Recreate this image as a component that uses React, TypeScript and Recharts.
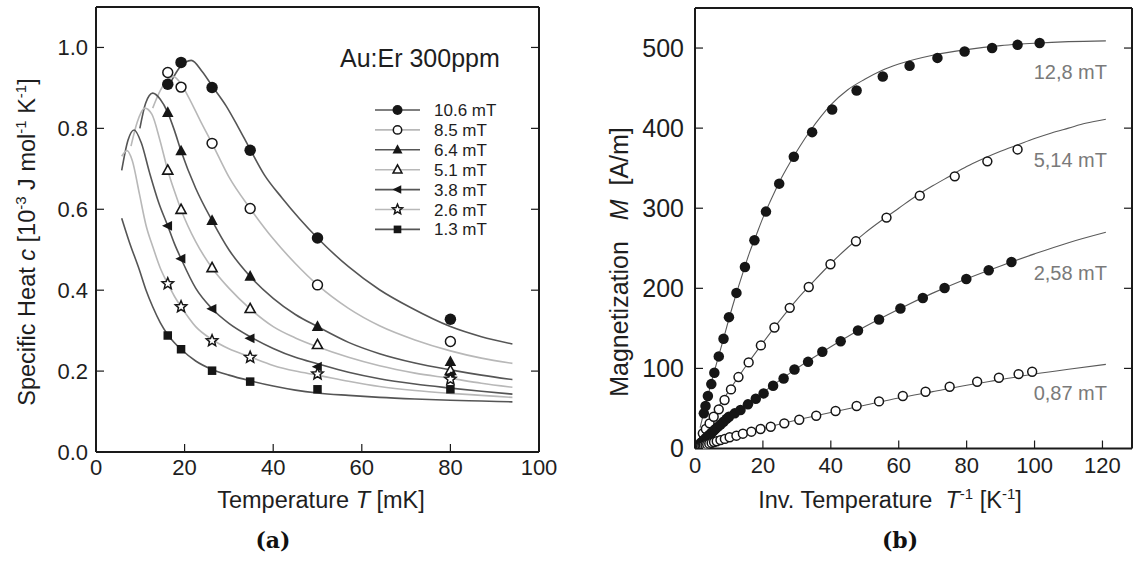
import React from 'react';
import { ComposedChart, Line, Scatter, XAxis, YAxis } from 'recharts';

const FONT = '"Liberation Sans", Arial, Helvetica, sans-serif';
const INK = '#161616';

// ---------------- Panel (a): specific heat ----------------
const tempMK = [16.2, 19.2, 26.2, 34.8, 50, 80];
const fieldLabelsA = ['10.6 mT', '8.5 mT', '6.4 mT', '5.1 mT', '3.8 mT', '2.6 mT', '1.3 mT'];
const heat106 = [0.909, 0.963, 0.901, 0.746, 0.529, 0.328];
const heat85 = [0.938, 0.902, 0.763, 0.602, 0.413, 0.273];
const heat64 = [0.839, 0.744, 0.572, 0.434, 0.31, 0.223];
const heat51 = [0.696, 0.599, 0.455, 0.354, 0.265, 0.201];
const heat38 = [0.559, 0.478, 0.354, 0.281, 0.211, 0.19];
const heat26 = [0.416, 0.359, 0.275, 0.234, 0.193, 0.18];
const heat13 = [0.288, 0.254, 0.201, 0.174, 0.155, 0.155];

const fit106 = [[17.0, 0.917], [19, 0.952], [21.5, 0.968], [24, 0.94], [26.2, 0.905], [29.4, 0.855], [32, 0.805], [34.8, 0.748], [38, 0.685], [42, 0.628], [46, 0.576], [50, 0.529], [57, 0.458], [64, 0.401], [71, 0.357], [80, 0.31], [87, 0.285], [94, 0.267]];
const fit85 = [[12.8, 0.85], [14.5, 0.893], [16, 0.918], [17.5, 0.928], [19.2, 0.91], [21, 0.875], [23.5, 0.82], [26.2, 0.763], [30, 0.68], [34.8, 0.602], [40, 0.527], [45, 0.466], [50, 0.413], [57, 0.355], [64, 0.312], [72, 0.277], [80, 0.25], [87, 0.232], [94, 0.219]];
const fit64 = [[9.9, 0.8], [11.2, 0.862], [12.8, 0.887], [14.5, 0.872], [16.2, 0.839], [17.7, 0.795], [19.2, 0.744], [22.5, 0.652], [26.2, 0.572], [30, 0.5], [34.8, 0.434], [40, 0.38], [45, 0.34], [50, 0.31], [57, 0.271], [64, 0.243], [72, 0.22], [80, 0.203], [87, 0.19], [94, 0.179]];
const fit51 = [[7.9, 0.756], [9.3, 0.815], [11.0, 0.85], [12.6, 0.835], [14.4, 0.772], [16.2, 0.696], [17.7, 0.645], [19.2, 0.599], [22.5, 0.52], [26.2, 0.455], [30, 0.405], [34.8, 0.354], [40, 0.31], [45, 0.282], [50, 0.26], [57, 0.234], [64, 0.213], [72, 0.195], [80, 0.182], [87, 0.17], [94, 0.16]];
const fit38 = [[5.8, 0.696], [7.2, 0.77], [8.6, 0.796], [10.2, 0.765], [12.1, 0.69], [14.2, 0.615], [16.2, 0.559], [17.7, 0.515], [19.2, 0.478], [22.5, 0.405], [26.2, 0.354], [30, 0.318], [34.8, 0.285], [40, 0.256], [45, 0.234], [50, 0.218], [57, 0.197], [64, 0.181], [72, 0.168], [80, 0.158], [87, 0.15], [94, 0.143]];
const fit26 = [[5.8, 0.731], [7.0, 0.745], [8.2, 0.72], [9.8, 0.638], [11.3, 0.56], [12.8, 0.508], [14.5, 0.455], [16.2, 0.416], [17.7, 0.385], [19.2, 0.359], [22.5, 0.31], [26.2, 0.278], [30, 0.255], [34.8, 0.235], [40, 0.214], [45, 0.2], [50, 0.19], [57, 0.175], [64, 0.162], [72, 0.152], [80, 0.145], [87, 0.14], [94, 0.135]];
const fit13 = [[5.8, 0.578], [7.5, 0.52], [9.8, 0.45], [11.3, 0.4], [12.8, 0.359], [14.5, 0.32], [16.2, 0.29], [17.7, 0.27], [19.2, 0.254], [22.5, 0.225], [26.2, 0.204], [30, 0.19], [34.8, 0.176], [40, 0.163], [45, 0.153], [50, 0.146], [57, 0.14], [64, 0.135], [72, 0.131], [80, 0.128], [87, 0.126], [94, 0.124]];

const xTicksA = [0, 20, 40, 60, 80, 100];
const yTicksA = [0, 0.2, 0.4, 0.6, 0.8, 1.0];

// ---------------- Panel (b): magnetization ----------------
const fieldLabelsB = ['12,8 mT', '5,14 mT', '2,58 mT', '0,87 mT'];
const invT128 = [2.6, 3.1, 3.8, 4.8, 5.7, 7.0, 8.4, 10.0, 12.2, 14.7, 17.5, 20.9, 24.8, 29.1, 34.5, 40.4, 47.6, 55.3, 63.2, 71.4, 79.4, 87.5, 95.0, 101.5];
const mag128 = [43.9, 53, 65.5, 80.4, 94.5, 115, 137, 164, 194.3, 226.7, 260, 295.8, 330.7, 364.3, 395, 423.3, 447, 464.5, 477.8, 487.7, 495.6, 500, 504, 506.4];
const invT514 = [2.3, 3.2, 4.3, 5.5, 7.0, 8.7, 10.6, 12.8, 15.8, 19.4, 23.4, 27.9, 33.5, 39.9, 47.4, 56.4, 66.2, 76.5, 86.1, 95.0];
const mag514 = [18.9, 24.3, 31.4, 39.7, 48.9, 60.5, 73.8, 89.2, 107.5, 128.7, 151.1, 175.6, 201.7, 230, 258.7, 288.3, 315.7, 339.8, 358.5, 373.4];
const invT258 = [1.6, 2.0, 2.4, 2.8, 3.2, 3.7, 4.2, 4.8, 5.4, 6.0, 6.7, 7.5, 8.4, 9.3, 10.0, 11.7, 13.4, 15.6, 17.9, 20.2, 23.0, 26.1, 29.3, 33.3, 37.5, 42.9, 48.0, 54.2, 60.5, 67.1, 73.5, 79.9, 86.5, 93.2];
const mag258 = [6.5, 8, 9.7, 11.3, 13, 15, 17, 19.4, 21.8, 24.2, 27, 30, 33.5, 37, 39.7, 43.9, 48, 55.1, 62.1, 68.8, 78.3, 87.5, 98.7, 108.2, 120.7, 134, 147.4, 161.1, 174.8, 188, 200.5, 211.7, 222.6, 232.9];
const invT087 = [1.4, 1.8, 2.2, 2.6, 3.1, 3.6, 4.2, 4.9, 5.6, 6.4, 7.5, 8.8, 10.2, 12.2, 14.1, 16.6, 19.3, 22.3, 26.3, 30.7, 35.7, 41.4, 47.6, 54.2, 61.2, 67.9, 75.0, 83.1, 89.5, 95.3, 99.3];
const mag087 = [2, 2.6, 3.1, 3.7, 4.4, 5.1, 6, 7, 8, 9, 10.5, 12, 14, 16, 18.5, 21, 24.3, 27.2, 31.4, 35.9, 40.9, 46.8, 53, 58.8, 65.5, 70.9, 77.1, 83.3, 88.3, 92.9, 95.8];

const fitB128 = [[1.5, 26], [4, 69], [6, 101], [8, 131], [10, 162], [12, 191], [14, 218], [16, 244], [18, 266], [20, 288], [22, 307], [25, 334], [28, 357], [31, 378], [34, 397], [37, 414], [40, 429], [45, 448], [50, 461], [55, 472], [60, 480], [70, 491], [80, 498], [90, 503], [100, 506], [110, 508], [121, 509]];
const fitB514 = [[1.5, 12], [5, 39], [10, 72], [15, 103], [20, 132], [25, 160], [30, 186], [35, 209], [40, 231], [45, 251], [50, 269], [55, 285], [60, 300], [65, 315], [70, 328], [75, 340], [80, 352], [85, 362], [90, 371], [95, 379], [100, 387], [105, 394], [110, 400], [115, 406], [121, 411]];
const fitB258 = [[1, 4], [10, 40], [20, 70], [30, 100], [40, 127], [50, 152], [60, 174], [70, 194], [80, 212], [90, 228], [100, 243], [110, 257], [121, 270]];
const fitB087 = [[1, 1.5], [10, 13.5], [20, 25], [30, 35.5], [40, 45], [50, 54], [60, 63], [70, 71], [80, 79], [90, 86], [100, 93], [110, 99], [121, 105]];

const xTicksB = [0, 20, 40, 60, 80, 100, 120];
const yTicksB = [0, 100, 200, 300, 400, 500];

// ---------------- helpers ----------------
const zipPts = (xs: number[], ys: number[]) => xs.map((x, i) => ({ x, y: ys[i] }));
const pairPts = (arr: number[][]) => arr.map(([x, y]) => ({ x, y }));

function starPath(cx: number, cy: number, R: number) {
  const r = R * 0.45;
  let d = '';
  for (let i = 0; i < 10; i++) {
    const ang = -Math.PI / 2 + (i * Math.PI) / 5;
    const rad = i % 2 === 0 ? R : r;
    d += (i === 0 ? 'M' : 'L') + (cx + rad * Math.cos(ang)).toFixed(2) + ',' + (cy + rad * Math.sin(ang)).toFixed(2);
  }
  return d + 'Z';
}

function Marker({ kind, cx, cy, s }: { kind: string; cx: number; cy: number; s: number }) {
  const h = s / 2;
  if (cx == null || cy == null) return null;
  switch (kind) {
    case 'circle':
      return <circle cx={cx} cy={cy} r={h} fill={INK} />;
    case 'circleOpen':
      return <circle cx={cx} cy={cy} r={h - 0.8} fill="#fff" stroke={INK} strokeWidth={1.5} />;
    case 'triangle':
      return <polygon points={`${cx},${cy - h * 1.1} ${cx + h},${cy + h * 0.75} ${cx - h},${cy + h * 0.75}`} fill={INK} />;
    case 'triangleOpen':
      return <polygon points={`${cx},${cy - h * 0.95} ${cx + h * 0.88},${cy + h * 0.65} ${cx - h * 0.88},${cy + h * 0.65}`} fill="#fff" stroke={INK} strokeWidth={1.6} strokeLinejoin="miter" />;
    case 'triangleLeft':
      return <polygon points={`${cx - h * 1.0},${cy} ${cx + h * 0.75},${cy - h * 0.85} ${cx + h * 0.75},${cy + h * 0.85}`} fill={INK} />;
    case 'star':
      return <path d={starPath(cx, cy, h * 1.05)} fill="#fff" stroke={INK} strokeWidth={1.5} strokeLinejoin="miter" />;
    case 'square':
      return <rect x={cx - h * 0.85} y={cy - h * 0.85} width={h * 1.7} height={h * 1.7} fill={INK} />;
    default:
      return null;
  }
}

const DARK = '#555555';
const LIGHT = '#b8b8b8';

const seriesA = [
  { label: fieldLabelsA[0], pts: zipPts(tempMK, heat106), fit: pairPts(fit106), marker: 'circle', color: DARK },
  { label: fieldLabelsA[1], pts: zipPts(tempMK, heat85), fit: pairPts(fit85), marker: 'circleOpen', color: LIGHT },
  { label: fieldLabelsA[2], pts: zipPts(tempMK, heat64), fit: pairPts(fit64), marker: 'triangle', color: DARK },
  { label: fieldLabelsA[3], pts: zipPts(tempMK, heat51), fit: pairPts(fit51), marker: 'triangleOpen', color: LIGHT },
  { label: fieldLabelsA[4], pts: zipPts(tempMK, heat38), fit: pairPts(fit38), marker: 'triangleLeft', color: DARK },
  { label: fieldLabelsA[5], pts: zipPts(tempMK, heat26), fit: pairPts(fit26), marker: 'star', color: LIGHT },
  { label: fieldLabelsA[6], pts: zipPts(tempMK, heat13), fit: pairPts(fit13), marker: 'square', color: DARK },
];

const seriesB = [
  { label: fieldLabelsB[0], pts: zipPts(invT128, mag128), fit: pairPts(fitB128), marker: 'circle' },
  { label: fieldLabelsB[1], pts: zipPts(invT514, mag514), fit: pairPts(fitB514), marker: 'circleOpen' },
  { label: fieldLabelsB[2], pts: zipPts(invT258, mag258), fit: pairPts(fitB258), marker: 'circle' },
  { label: fieldLabelsB[3], pts: zipPts(invT087, mag087), fit: pairPts(fitB087), marker: 'circleOpen' },
];

const axisLineStyle = { stroke: '#1a1a1a', strokeWidth: 2 };
const TICK_LEN = 8;
const TICK_STROKE = '#1a1a1a';

// Custom tick: draws an inward tick mark plus (optionally) the label.
function makeTick(orient: string, margin: number, fontSize: number, fmt: ((v: number) => string) | null) {
  return (props: any) => {
    const { x, y, payload } = props;
    if (x == null || y == null) return <g />;
    const v = payload && payload.value;
    let line = null;
    let label = null;
    if (orient === 'bottom') {
      const y0 = y - margin;
      line = <line x1={x} x2={x} y1={y0} y2={y0 - TICK_LEN} stroke={TICK_STROKE} strokeWidth={1.2} />;
      if (fmt) label = <text x={x} y={y} dy="0.71em" textAnchor="middle" fontSize={fontSize} fontFamily={FONT} fill="#1e1e1e">{fmt(v)}</text>;
    } else if (orient === 'left') {
      const x0 = x + margin;
      line = <line x1={x0} x2={x0 + TICK_LEN} y1={y} y2={y} stroke={TICK_STROKE} strokeWidth={1.2} />;
      if (fmt) label = <text x={x} y={y} dy="0.355em" textAnchor="end" fontSize={fontSize} fontFamily={FONT} fill="#1e1e1e">{fmt(v)}</text>;
    } else if (orient === 'top') {
      line = <line x1={x} x2={x} y1={y} y2={y + TICK_LEN} stroke={TICK_STROKE} strokeWidth={1.2} />;
    } else {
      line = <line x1={x - TICK_LEN} x2={x} y1={y} y2={y} stroke={TICK_STROKE} strokeWidth={1.2} />;
    }
    return <g>{line}{label}</g>;
  };
}

const fmtInt = (v: number) => String(v);
const fmt1 = (v: number) => v.toFixed(1);

export default function App() {
  return (
    <div style={{ position: 'absolute', left: 0, top: 0, width: 1137, height: 566, background: '#fff', fontFamily: FONT }}>
      {/* Panel (a) */}
      <div style={{ position: 'absolute', left: 0, top: 0 }}>
        <ComposedChart width={560} height={566} margin={{ top: 6, right: 20, bottom: 54, left: 0 }}>
          <XAxis xAxisId="b" type="number" dataKey="x" domain={[0, 100]} ticks={xTicksA} interval={0}
            orientation="bottom" height={60} tickSize={0} tickMargin={7} tickLine={false}
            tick={makeTick('bottom', 7, 22, fmtInt)} axisLine={axisLineStyle} allowDataOverflow />
          <XAxis xAxisId="t" type="number" domain={[0, 100]} ticks={[20, 40, 60, 80]} interval={0}
            orientation="top" height={1} tickSize={0} tickMargin={0} tickLine={false}
            tick={makeTick('top', 0, 22, null)} axisLine={axisLineStyle} allowDataOverflow />
          <YAxis yAxisId="l" type="number" dataKey="y" domain={[0, 1.1]} ticks={yTicksA} interval={0}
            width={96} tickSize={0} tickMargin={8} tickLine={false}
            tick={makeTick('left', 8, 22, fmt1)} axisLine={axisLineStyle} allowDataOverflow />
          <YAxis yAxisId="r" type="number" orientation="right" domain={[0, 1.1]} ticks={[0.2, 0.4, 0.6, 0.8, 1.0]} interval={0}
            width={1} tickSize={0} tickMargin={0} tickLine={false}
            tick={makeTick('right', 0, 22, null)} axisLine={axisLineStyle} allowDataOverflow />
          {seriesA.map((s) => (
            <Line key={'fit' + s.label} xAxisId="b" yAxisId="l" data={s.fit} dataKey="y" type="monotone"
              stroke={s.color} strokeWidth={1.6} dot={false} activeDot={false} isAnimationActive={false} legendType="none" />
          ))}
          {seriesA.map((s) => (
            <Scatter key={'pts' + s.label} name={s.label} xAxisId="b" yAxisId="l" data={s.pts} dataKey="y"
              isAnimationActive={false}
              shape={(p: any) => <Marker kind={s.marker} cx={p.cx} cy={p.cy} s={s.marker === 'square' ? 10 : 11.5} />} />
          ))}
        </ComposedChart>
      </div>

      {/* Panel (b) */}
      <div style={{ position: 'absolute', left: 560, top: 0 }}>
        <ComposedChart width={577} height={566} margin={{ top: 7, right: 4, bottom: 57.5, left: 0 }}>
          <XAxis xAxisId="b" type="number" dataKey="x" domain={[0, 128.7]} ticks={xTicksB} interval={0}
            orientation="bottom" height={60} tickSize={0} tickMargin={9} tickLine={false}
            tick={makeTick('bottom', 9, 22, fmtInt)} axisLine={axisLineStyle} allowDataOverflow />
          <XAxis xAxisId="t" type="number" domain={[0, 128.7]} ticks={[20, 40, 60, 80, 100, 120]} interval={0}
            orientation="top" height={1} tickSize={0} tickMargin={0} tickLine={false}
            tick={makeTick('top', 0, 22, null)} axisLine={axisLineStyle} allowDataOverflow />
          <YAxis yAxisId="l" type="number" dataKey="y" domain={[0, 550]} ticks={yTicksB} interval={0}
            width={135} tickSize={0} tickMargin={11} tickLine={false}
            tick={makeTick('left', 11, 25, fmtInt)} axisLine={axisLineStyle} allowDataOverflow />
          <YAxis yAxisId="r" type="number" orientation="right" domain={[0, 550]} ticks={[100, 200, 300, 400, 500]} interval={0}
            width={1} tickSize={0} tickMargin={0} tickLine={false}
            tick={makeTick('right', 0, 22, null)} axisLine={axisLineStyle} allowDataOverflow />
          {seriesB.map((s) => (
            <Line key={'fit' + s.label} xAxisId="b" yAxisId="l" data={s.fit} dataKey="y" type="monotone"
              stroke="#5a5a5a" strokeWidth={1.1} dot={false} activeDot={false} isAnimationActive={false} legendType="none" />
          ))}
          {seriesB.map((s) => (
            <Scatter key={'pts' + s.label} name={s.label} xAxisId="b" yAxisId="l" data={s.pts} dataKey="y"
              isAnimationActive={false}
              shape={(p: any) => <Marker kind={s.marker} cx={p.cx} cy={p.cy} s={10.5} />} />
          ))}
        </ComposedChart>
      </div>

      {/* Text overlay: titles, legend, annotations */}
      <svg width={1137} height={566} style={{ position: 'absolute', left: 0, top: 0, pointerEvents: 'none' }} fontFamily={FONT}>
        <text transform="translate(35,242) rotate(-90)" textAnchor="middle" fontSize={23.5} fill="#1e1e1e" style={{ whiteSpace: 'pre' }}>
          Specific Heat <tspan fontStyle="italic">c</tspan> [10<tspan dy={-9} fontSize={15}>-3</tspan><tspan dy={9}> J mol</tspan><tspan dy={-9} fontSize={15}>-1</tspan><tspan dy={9}> K</tspan><tspan dy={-9} fontSize={15}>-1</tspan><tspan dy={9}>]</tspan>
        </text>
        <text x={321} y={508} textAnchor="middle" fontSize={23.5} fill="#1e1e1e" style={{ whiteSpace: 'pre' }}>
          Temperature <tspan fontStyle="italic">T</tspan> [mK]
        </text>
        <text x={273} y={548} textAnchor="middle" fontSize={22} fontWeight="bold" fontFamily='"DejaVu Serif", "Liberation Serif", serif' fill="#111">(a)</text>

        <text x={340} y={67} fontSize={25} fill="#1e1e1e">Au:Er 300ppm</text>
        {seriesA.map((s, i) => {
          const y = 110 + i * 19.9;
          return (
            <g key={'lg' + s.label}>
              <line x1={375} x2={420} y1={y} y2={y} stroke={s.color} strokeWidth={1.6} />
              <Marker kind={s.marker} cx={397.5} cy={y} s={s.marker === 'square' ? 9 : 10} />
              <text x={434} y={y + 6} fontSize={17} fill="#1e1e1e">{s.label}</text>
            </g>
          );
        })}

        <text transform="translate(628,262) rotate(-90)" textAnchor="middle" fontSize={25} fill="#1e1e1e" style={{ whiteSpace: 'pre' }}>
          Magnetization   <tspan fontStyle="italic">M</tspan>  [A/m]
        </text>
        <text x={890} y={508} textAnchor="middle" fontSize={23.5} fill="#1e1e1e" style={{ whiteSpace: 'pre' }}>
          Inv. Temperature  <tspan fontStyle="italic">T</tspan><tspan dy={-9} fontSize={15}>-1</tspan><tspan dy={9}> [K</tspan><tspan dy={-9} fontSize={15}>-1</tspan><tspan dy={9}>]</tspan>
        </text>
        <text x={900} y={548} textAnchor="middle" fontSize={22} fontWeight="bold" fontFamily='"DejaVu Serif", "Liberation Serif", serif' fill="#111">(b)</text>

        {[79, 167, 280, 400].map((y, i) => (
          <text key={'ann' + i} x={1107} y={y} textAnchor="end" fontSize={20} fill="#7a7a7a">{fieldLabelsB[i]}</text>
        ))}
      </svg>
    </div>
  );
}
